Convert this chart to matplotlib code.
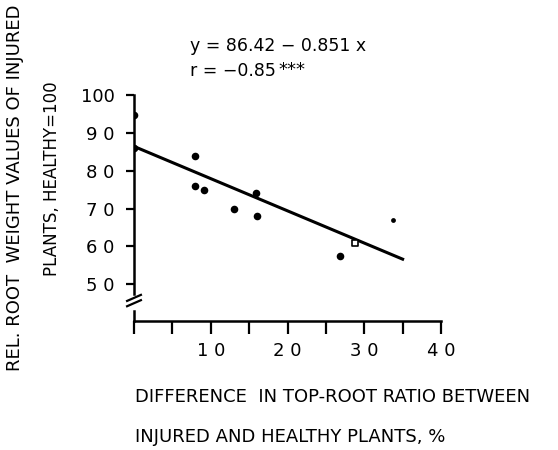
import matplotlib
matplotlib.use("Agg")
import matplotlib.pyplot as plt
import numpy as np

# observed points (difference in top-root ratio %, relative root weight)
diff_pct = [0.0, 0.0, 7.9, 7.9, 9.1, 13.0, 15.9, 16.0, 26.9]
rel_root = [94.7, 86.1, 83.9, 75.9, 74.9, 69.9, 74.0, 68.0, 57.6]
open_x = [28.8]
open_y = [60.9]
small_x = [33.7]
small_y = [66.9]

intercept = 86.42
slope = -0.851
line_x = [0.0, 35.0]

xticks = [0, 5, 10, 15, 20, 25, 30, 35, 40]
xticklabels = ["", "", "1 0", "", "2 0", "", "3 0", "", "4 0"]
yticks = [50, 60, 70, 80, 90, 100]
yticklabels = ["5 0", "6 0", "7 0", "8 0", "9 0", "100"]

plt.rcParams["font.family"] = "DejaVu Sans"

fig = plt.figure(figsize=(5.58, 4.5), dpi=100)
ax = fig.add_axes([134 / 558, 1 - 321 / 450, (441 - 134) / 558, (321 - 95) / 450])

ax.scatter(diff_pct, rel_root, s=30, color="black", zorder=3, linewidths=0)
ax.scatter(open_x, open_y, s=22, marker="s", facecolor="white", edgecolor="black",
           linewidths=1.2, zorder=4)
ax.scatter(small_x, small_y, s=12, color="black", zorder=3, linewidths=0)

lx = np.array(line_x)
ax.plot(lx, intercept + slope * lx, color="black", lw=2.2, zorder=2)

ax.set_xlim(0, 40)
ax.set_ylim(40.3, 100)
ax.spines["top"].set_visible(False)
ax.spines["right"].set_visible(False)
ax.spines["left"].set_bounds(47.5, 100)
ax.spines["left"].set_linewidth(1.8)
ax.spines["bottom"].set_linewidth(1.8)

# broken y axis
ax.plot([0, 0], [40.3, 43.0], color="black", lw=1.8, clip_on=False)
ax.plot([-0.9, 0.9], [45.6, 47.2], color="black", lw=1.6, clip_on=False)
ax.plot([-0.9, 0.9], [44.2, 45.8], color="black", lw=1.6, clip_on=False)

ax.set_xticks(xticks)
ax.set_xticklabels(xticklabels)
ax.set_yticks(yticks)
ax.set_yticklabels(yticklabels)
ax.tick_params(axis="x", direction="out", length=9, width=1.6, pad=6, labelsize=13)
ax.tick_params(axis="y", direction="out", length=6, width=1.6, pad=8, labelsize=13)

ax.text(7.3, 112.9, "y = 86.42 − 0.851 x", fontsize=12.5, ha="left", va="center",
        clip_on=False)
rt = ax.text(7.3, 106.3, "r = −0.85", fontsize=12.5, ha="left", va="center",
             clip_on=False)
ax.annotate("***", xy=(1.0, 1.05), xycoords=rt, xytext=(2, 0),
            textcoords="offset points", ha="left", va="top", fontsize=13)

fig.text(15 / 558, 1 - 188 / 450, "REL. ROOT  WEIGHT VALUES OF INJURED",
         rotation=90, ha="center", va="center", fontsize=13)
fig.text(52 / 558, 1 - 179 / 450, "PLANTS, HEALTHY=100",
         rotation=90, ha="center", va="center", fontsize=12)
fig.text(135 / 558, 1 - 397 / 450, "DIFFERENCE  IN TOP-ROOT RATIO BETWEEN",
         ha="left", va="center", fontsize=13)
fig.text(135 / 558, 1 - 437 / 450, "INJURED AND HEALTHY PLANTS, %",
         ha="left", va="center", fontsize=13)

fig.savefig("out.png", dpi=100)
